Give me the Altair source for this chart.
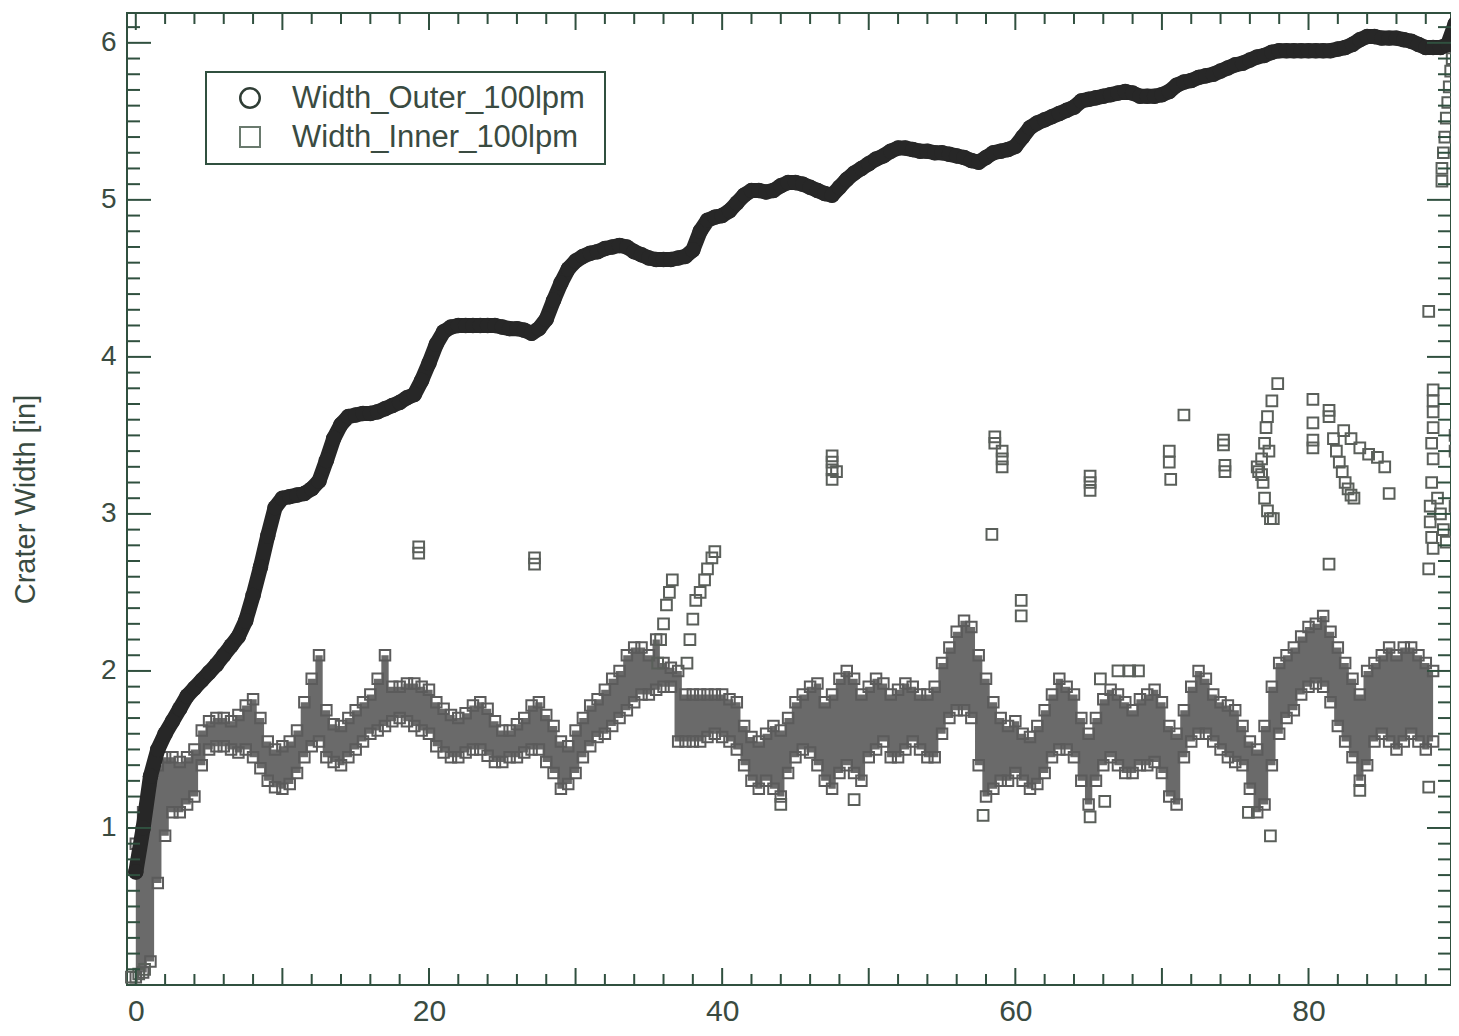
import altair as alt
import pandas as pd

# ---------------- data ----------------
STEP = 0.5  # sampling step of the traced series (x units)

# Width_Outer_100lpm, x = 0, 0.5, ..., 90
OUTER_Y = [
    0.72, 1.00, 1.33, 1.50, 1.60, 1.68, 1.76, 1.84, 1.89, 1.94,
    1.99, 2.04, 2.10, 2.16, 2.22, 2.32, 2.48, 2.66, 2.86, 3.04,
    3.10, 3.11, 3.12, 3.13, 3.16, 3.21, 3.34, 3.48, 3.57, 3.62,
    3.63, 3.64, 3.64, 3.65, 3.67, 3.69, 3.71, 3.74, 3.76, 3.85,
    3.96, 4.08, 4.16, 4.19, 4.20, 4.20, 4.20, 4.20, 4.20, 4.20,
    4.19, 4.18, 4.18, 4.17, 4.15, 4.18, 4.24, 4.36, 4.47, 4.56,
    4.61, 4.64, 4.66, 4.67, 4.69, 4.70, 4.71, 4.70, 4.67, 4.65,
    4.63, 4.62, 4.62, 4.62, 4.63, 4.64, 4.68, 4.80, 4.87, 4.89,
    4.90, 4.93, 4.98, 5.03, 5.06, 5.06, 5.05, 5.06, 5.09, 5.11,
    5.11, 5.10, 5.08, 5.06, 5.04, 5.03, 5.08, 5.13, 5.17, 5.20,
    5.23, 5.26, 5.28, 5.31, 5.33, 5.33, 5.32, 5.31, 5.31, 5.30,
    5.30, 5.29, 5.28, 5.27, 5.25, 5.24, 5.27, 5.30, 5.31, 5.32,
    5.34, 5.40, 5.46, 5.49, 5.51, 5.53, 5.55, 5.57, 5.59, 5.63,
    5.64, 5.65, 5.66, 5.67, 5.68, 5.69, 5.68, 5.66, 5.66, 5.66,
    5.67, 5.69, 5.73, 5.75, 5.76, 5.78, 5.79, 5.80, 5.82, 5.84,
    5.86, 5.87, 5.89, 5.91, 5.92, 5.94, 5.95, 5.95, 5.95, 5.95,
    5.95, 5.95, 5.95, 5.95, 5.96, 5.97, 5.99, 6.02, 6.04, 6.04,
    6.03, 6.03, 6.03, 6.02, 6.01, 5.99, 5.97, 5.97, 5.97, 5.99,
    6.12,
]

# Width_Inner_100lpm main band: lower / upper edge, x = 0, 0.5, ..., 88.5
INNER_LO = [
    0.05, 0.08, 0.15, 0.65, 0.95, 1.10, 1.10, 1.15, 1.20, 1.40,
    1.50, 1.52, 1.52, 1.50, 1.48, 1.50, 1.45, 1.38, 1.30, 1.26,
    1.25, 1.28, 1.35, 1.45, 1.52, 1.55, 1.45, 1.42, 1.40, 1.45,
    1.50, 1.55, 1.60, 1.62, 1.65, 1.68, 1.70, 1.68, 1.65, 1.62,
    1.60, 1.52, 1.48, 1.45, 1.45, 1.48, 1.50, 1.50, 1.46, 1.42,
    1.42, 1.45, 1.45, 1.48, 1.50, 1.50, 1.42, 1.35, 1.25, 1.28,
    1.35, 1.45, 1.52, 1.58, 1.60, 1.65, 1.70, 1.75, 1.80, 1.85,
    1.85, 1.88, 1.90, 1.90, 1.55, 1.55, 1.55, 1.55, 1.58, 1.60,
    1.58, 1.55, 1.50, 1.40, 1.30, 1.25, 1.30, 1.25, 1.20, 1.35,
    1.45, 1.50, 1.48, 1.40, 1.30, 1.25, 1.35, 1.40, 1.35, 1.30,
    1.45, 1.50, 1.55, 1.45, 1.45, 1.50, 1.55, 1.50, 1.45, 1.45,
    1.60, 1.70, 1.75, 1.75, 1.70, 1.40, 1.20, 1.25, 1.30, 1.30,
    1.35, 1.30, 1.25, 1.28, 1.35, 1.45, 1.50, 1.50, 1.45, 1.30,
    1.15, 1.30, 1.40, 1.45, 1.40, 1.35, 1.35, 1.40, 1.40, 1.42,
    1.35, 1.20, 1.15, 1.45, 1.55, 1.60, 1.60, 1.55, 1.50, 1.45,
    1.42, 1.40, 1.25, 1.10, 1.15, 1.40, 1.60, 1.70, 1.75, 1.85,
    1.90, 1.92, 1.90, 1.80, 1.65, 1.55, 1.45, 1.30, 1.40, 1.55,
    1.60, 1.55, 1.50, 1.55, 1.60, 1.55, 1.50, 1.55,
]
INNER_HI = [
    0.90, 1.10, 1.30, 1.40, 1.45, 1.45, 1.42, 1.45, 1.50, 1.62,
    1.68, 1.70, 1.70, 1.68, 1.72, 1.78, 1.82, 1.70, 1.55, 1.50,
    1.52, 1.55, 1.62, 1.80, 1.95, 2.10, 1.75, 1.66, 1.65, 1.70,
    1.75, 1.80, 1.85, 1.95, 2.10, 1.90, 1.90, 1.92, 1.92, 1.90,
    1.88, 1.80, 1.76, 1.72, 1.70, 1.73, 1.78, 1.80, 1.76, 1.68,
    1.62, 1.62, 1.66, 1.70, 1.78, 1.80, 1.72, 1.65, 1.55, 1.52,
    1.62, 1.70, 1.78, 1.82, 1.88, 1.95, 2.00, 2.10, 2.15, 2.15,
    2.10, 2.20, 2.05, 2.02, 2.00, 1.85, 1.85, 1.85, 1.85, 1.85,
    1.85, 1.82, 1.80, 1.65, 1.58, 1.55, 1.60, 1.65, 1.62, 1.70,
    1.80, 1.85, 1.90, 1.92, 1.80, 1.85, 1.95, 2.00, 1.95, 1.85,
    1.90, 1.95, 1.92, 1.85, 1.88, 1.92, 1.90, 1.85, 1.85, 1.90,
    2.05, 2.15, 2.25, 2.32, 2.28, 2.10, 1.95, 1.80, 1.70, 1.65,
    1.68, 1.60, 1.58, 1.65, 1.75, 1.85, 1.95, 1.90, 1.85, 1.70,
    1.60, 1.70, 1.82, 1.88, 1.85, 1.80, 1.75, 1.82, 1.85, 1.88,
    1.80, 1.65, 1.60, 1.75, 1.90, 2.00, 1.95, 1.85, 1.80, 1.78,
    1.75, 1.65, 1.55, 1.50, 1.65, 1.90, 2.05, 2.10, 2.15, 2.22,
    2.28, 2.30, 2.35, 2.25, 2.15, 2.05, 1.95, 1.85, 2.00, 2.05,
    2.10, 2.15, 2.10, 2.15, 2.15, 2.10, 2.05, 2.00,
]

# Width_Inner_100lpm scattered points away from the band
INNER_OUT_X = [
    19.3, 19.3, 27.2, 27.2,
    35.6, 35.8, 36.0, 36.2, 36.4, 36.6,
    37.6, 37.8, 38.0, 38.2, 38.5, 38.8, 39.0, 39.3, 39.5,
    47.5, 47.5, 47.5, 47.5, 47.8,
    58.6, 58.6, 59.1, 59.1, 59.1, 58.4, 60.4, 60.4,
    65.1, 65.1, 65.1,
    70.5, 70.5, 70.6, 71.5,
    74.2, 74.2, 74.3, 74.3,
    76.5, 76.6, 76.8, 77.0, 77.1, 77.2, 77.5, 77.9, 76.9, 77.0, 77.2, 77.4, 77.6, 76.8, 77.3,
    80.3, 80.3, 80.3, 80.3, 81.4, 81.4,
    81.7, 81.9, 82.1, 82.3, 82.5, 82.7, 82.9, 83.1,
    82.4, 82.9, 83.5, 84.1, 84.7, 85.2, 85.5,
    81.4, 88.2, 88.2,
    88.5, 88.5, 88.5, 88.5, 88.4, 88.5, 88.4, 88.3, 88.3, 88.4, 88.5, 88.8, 89.0, 89.2, 89.4,
    90.0, 90.0, 90.0,
    89.1, 89.1, 89.2, 89.3, 89.4, 89.5, 89.6, 89.7, 89.8,
    -0.3, 0.2, 0.6, 44.0, 49.0, 57.8, 65.1, 66.1, 75.9, 77.4, 83.5, 88.2,
    65.8, 67.0, 67.8, 68.4,
]
INNER_OUT_Y = [
    2.79, 2.75, 2.72, 2.68,
    2.05, 2.20, 2.30, 2.42, 2.50, 2.58,
    2.05, 2.20, 2.33, 2.45, 2.50, 2.58, 2.65, 2.72, 2.76,
    3.37, 3.33, 3.28, 3.22, 3.27,
    3.49, 3.45, 3.40, 3.35, 3.30, 2.87, 2.45, 2.35,
    3.24, 3.20, 3.15,
    3.40, 3.33, 3.22, 3.63,
    3.47, 3.44, 3.31, 3.27,
    3.30, 3.27, 3.35, 3.45, 3.55, 3.62, 3.72, 3.83, 3.20, 3.10, 3.02, 2.97, 2.97, 3.25, 3.40,
    3.73, 3.58, 3.47, 3.42, 3.66, 3.62,
    3.48, 3.40, 3.33, 3.27, 3.20, 3.16, 3.12, 3.10,
    3.53, 3.48, 3.42, 3.38, 3.36, 3.30, 3.13,
    2.68, 4.29, 2.65,
    3.79, 3.72, 3.65, 3.55, 3.45, 3.35, 3.20, 3.05, 2.95, 2.85, 2.78, 3.10, 3.00, 2.90, 2.82,
    3.50, 3.40, 3.05,
    5.12, 5.20, 5.30, 5.40, 5.52, 5.62, 5.72, 5.82, 5.90,
    0.05, 0.07, 0.10, 1.15, 1.18, 1.08, 1.07, 1.17, 1.10, 0.95, 1.24, 1.26,
    1.95, 2.00, 2.00, 2.00,
]

LEGEND_LABELS = ["Width_Outer_100lpm", "Width_Inner_100lpm"]
X_LABELS = [0, 20, 40, 60, 80]
Y_LABELS = [1, 2, 3, 4, 5, 6]
X_TICKS_MAJOR = list(range(0, 81, 10))
X_TICKS_MINOR = [v for v in range(0, 90, 2) if v % 10]
Y_TICKS_MINOR = [round(i * 0.1, 1) for i in range(1, 62) if i % 10]
Y_TITLE = "Crater Width [in]"

assert len(INNER_LO) == len(INNER_HI)
assert len(INNER_OUT_X) == len(INNER_OUT_Y)

# ---------------- tables ----------------
outer = pd.DataFrame({"x": [i * STEP for i in range(len(OUTER_Y))], "y": OUTER_Y})
band = pd.DataFrame({"x": [i * STEP for i in range(len(INNER_LO))], "lo": INNER_LO, "hi": INNER_HI})
edges = pd.concat([
    pd.DataFrame({"x": band["x"], "y": band["lo"]}),
    pd.DataFrame({"x": band["x"], "y": band["hi"]}),
])
outl = pd.DataFrame({"x": INNER_OUT_X, "y": INNER_OUT_Y})

# ---------------- style ----------------
W, H = 1324, 972
FONT = "Liberation Sans"
AX = "#30503f"
TXT = "#3a4b41"
XS = alt.Scale(domain=[-0.6, 89.72], nice=False, zero=False)
YS = alt.Scale(domain=[0, 6.19], nice=False, zero=False)

XA = alt.Axis(values=X_LABELS, ticks=False, tickSize=0, domain=False, grid=False,
              labelFont=FONT, labelFontSize=30, labelColor=TXT, labelPadding=11,
              title=None)
YA = alt.Axis(values=Y_LABELS, ticks=False, tickSize=0, domain=False, grid=False,
              labelFont=FONT, labelFontSize=28, labelColor=TXT, labelPadding=11,
              title=Y_TITLE, titleFont=FONT, titleFontSize=29, titleFontWeight="normal",
              titleColor=TXT, titleAngle=270, titleX=-102, titleY=486,
              titleAlign="center", titleBaseline="middle")


def X(f):
    return alt.X(f, type="quantitative", scale=XS, axis=XA, title=None)


def Y(f):
    return alt.Y(f, type="quantitative", scale=YS, axis=YA, title=Y_TITLE)


band_area = alt.Chart(band).mark_area(interpolate="step", color="#6a6a6a").encode(
    x=X("x"), y=Y("lo"), y2="hi:Q")
band_pts = alt.Chart(edges).mark_point(shape="square", filled=False, size=110,
                                      strokeWidth=2, color="#5b5b5b", opacity=1).encode(
    x=X("x"), y=Y("y"))
out_pts = alt.Chart(outl).mark_point(shape="square", filled=False, size=115,
                                    strokeWidth=2, color="#5a5f5a", opacity=1).encode(
    x=X("x"), y=Y("y"))
outer_line = alt.Chart(outer).mark_line(color="#272727", strokeWidth=15,
                                        strokeCap="round", strokeJoin="round").encode(
    x=X("x"), y=Y("y"))
outer_pts = alt.Chart(outer).mark_point(shape="circle", filled=True, size=240,
                                       color="#272727", opacity=1).encode(
    x=X("x"), y=Y("y"))


def xticks(vals, length):
    d = pd.DataFrame({"v": vals})
    bot = alt.Chart(d).mark_rule(color=AX, strokeWidth=2).encode(
        x=X("v"), y=alt.value(H), y2=alt.value(H - length))
    top = alt.Chart(d).mark_rule(color=AX, strokeWidth=2).encode(
        x=X("v"), y=alt.value(0), y2=alt.value(length))
    return [bot, top]


def yticks(vals, length):
    d = pd.DataFrame({"v": vals})
    left = alt.Chart(d).mark_rule(color=AX, strokeWidth=2).encode(
        y=Y("v"), x=alt.value(0), x2=alt.value(length))
    right = alt.Chart(d).mark_rule(color=AX, strokeWidth=2).encode(
        y=Y("v"), x=alt.value(W), x2=alt.value(W - length))
    return [left, right]


ticks = (xticks(X_TICKS_MAJOR, 17) + xticks(X_TICKS_MINOR, 11)
         + yticks(Y_LABELS, 24) + yticks(Y_TICKS_MINOR, 13))

one = pd.DataFrame({"a": [0]})
leg_box = alt.Chart(one).mark_rect(fill="white", stroke=AX, strokeWidth=2).encode(
    x=alt.value(79), x2=alt.value(478), y=alt.value(59), y2=alt.value(151))
leg_c = alt.Chart(one).mark_point(shape="circle", filled=False, size=380, strokeWidth=2.5,
                                  color="#2f3d35", opacity=1).encode(
    x=alt.value(123), y=alt.value(85))
leg_s = alt.Chart(one).mark_point(shape="square", filled=False, size=400, strokeWidth=2,
                                  color="#6a7a6e", opacity=1).encode(
    x=alt.value(123), y=alt.value(124))
leg_t1 = alt.Chart(one).mark_text(text=LEGEND_LABELS[0], font=FONT, fontSize=31, color=TXT,
                                  align="left", baseline="middle").encode(
    x=alt.value(165), y=alt.value(86))
leg_t2 = alt.Chart(one).mark_text(text=LEGEND_LABELS[1], font=FONT, fontSize=31, color=TXT,
                                  align="left", baseline="middle").encode(
    x=alt.value(165), y=alt.value(125))

chart = alt.layer(
    band_area, band_pts, out_pts, outer_line, outer_pts, *ticks,
    leg_box, leg_c, leg_s, leg_t1, leg_t2,
).properties(
    width=W, height=H,
    padding={"left": 119, "top": 5, "right": 0, "bottom": 43},
    autosize=alt.AutoSizeParams(type="none"),
    background="white",
).configure_view(stroke=AX, strokeWidth=2)

chart.save("out.html", embed_options={"renderer": "svg", "actions": False})
